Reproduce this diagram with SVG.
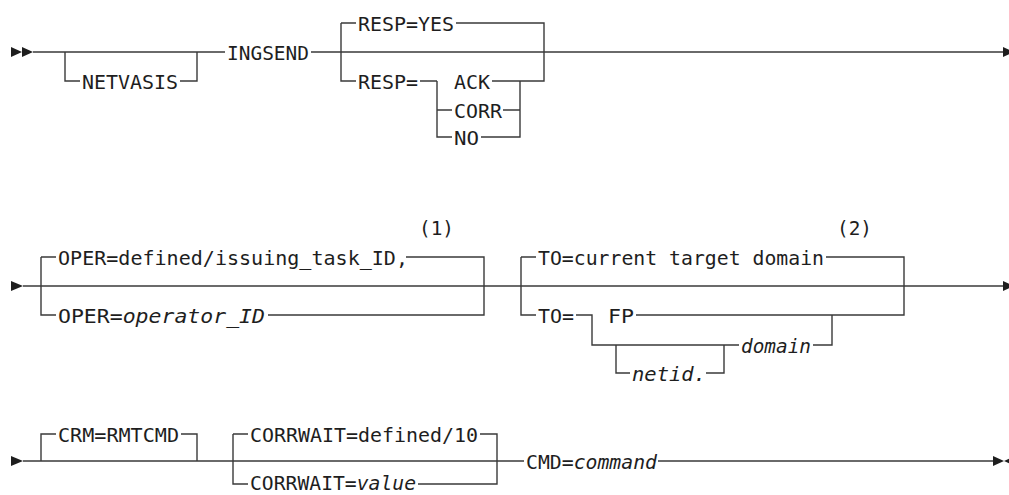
<svg xmlns="http://www.w3.org/2000/svg" width="1009" height="495" viewBox="0 0 1009 495">
<style>
text{font-family:"DejaVu Sans Mono","Liberation Mono",monospace;font-size:20px;fill:#1e1e1e}
.i{font-style:italic}
.ln{fill:none;stroke:#3a3a3a;stroke-width:1.4}
.ar{fill:#1e1e1e}
</style>
<rect width="1009" height="495" fill="#ffffff"/>
<g id="connectors">
<!-- row 1 -->
<path class="ln" d="M33,52 H225 M311,52 H1003"/>
<path class="ln" d="M65,52 V81 H80 M180,81 H197 V52"/>
<path class="ln" d="M341,23 V81 H356 M341,23 H356 M456,23 H544 V81 H492 M420,81 H437"/>
<path class="ln" d="M437,81 V137 H452 M437,110 H452 M520,81 V137 H481 M520,110 H503"/>
<!-- row 2 -->
<path class="ln" d="M23,286 H1003"/>
<path class="ln" d="M41,257 V315 H56 M41,257 H56 M406,257 H484 V315 H268"/>
<path class="ln" d="M521,257 V315 H536 M521,257 H536 M826,257 H904 V315 H636 M576,315 H592 V345 H739"/>
<path class="ln" d="M616,345 V373 H630 M706,373 H724 V345 M813,345 H832 V315"/>
<!-- row 3 -->
<path class="ln" d="M23,461 H524 M658,461 H993"/>
<path class="ln" d="M41,461 V434 H56 M181,434 H197 V461"/>
<path class="ln" d="M233,434 V484 H248 M233,434 H248 M480,434 H497 V484 H418"/>
<!-- arrowheads -->
<polygon class="ar" points="11,47 22,52 11,57"/>
<polygon class="ar" points="22,47 33,52 22,57"/>
<polygon class="ar" points="1003,47 1014,52 1003,57"/>
<polygon class="ar" points="11,281 23,286 11,291"/>
<polygon class="ar" points="1003,281 1014,286 1003,291"/>
<polygon class="ar" points="11,456 23,461 11,466"/>
<polygon class="ar" points="993,456 1004,461 993,466"/>
<polygon class="ar" points="1015,456 1004,461 1015,466"/>
</g>
<g id="netvasis"><text x="82" y="88.5" textLength="96" lengthAdjust="spacingAndGlyphs">NETVASIS</text></g>
<g id="ingsend"><text x="227" y="59.5" textLength="82" lengthAdjust="spacingAndGlyphs">INGSEND</text></g>
<g id="resp-yes"><text x="358" y="30.5" textLength="96" lengthAdjust="spacingAndGlyphs">RESP=YES</text></g>
<g id="resp"><text x="358" y="88.5" textLength="60" lengthAdjust="spacingAndGlyphs">RESP=</text></g>
<g id="ack"><text x="454" y="88.5" textLength="36" lengthAdjust="spacingAndGlyphs">ACK</text></g>
<g id="corr"><text x="454" y="117.5" textLength="48" lengthAdjust="spacingAndGlyphs">CORR</text></g>
<g id="no"><text x="454" y="144.5" textLength="25" lengthAdjust="spacingAndGlyphs">NO</text></g>
<g id="note1"><text x="419" y="235" textLength="35" lengthAdjust="spacingAndGlyphs">(1)</text></g>
<g id="oper-default"><text x="58" y="264.5" textLength="350" lengthAdjust="spacingAndGlyphs">OPER=defined/issuing_task_ID,</text></g>
<g id="oper-id"><text x="58" y="322.5" textLength="207" lengthAdjust="spacingAndGlyphs">OPER=<tspan class="i">operator_ID</tspan></text></g>
<g id="note2"><text x="837" y="235" textLength="35" lengthAdjust="spacingAndGlyphs">(2)</text></g>
<g id="to-default"><text x="538" y="264.5" textLength="286" lengthAdjust="spacingAndGlyphs">TO=current target domain</text></g>
<g id="to"><text x="538" y="322.5" textLength="36" lengthAdjust="spacingAndGlyphs">TO=</text></g>
<g id="fp"><text x="608" y="322.5" textLength="26" lengthAdjust="spacingAndGlyphs">FP</text></g>
<g id="netid"><text class="i" x="632" y="380.5" textLength="74" lengthAdjust="spacingAndGlyphs">netid.</text></g>
<g id="domain"><text class="i" x="741" y="352.5" textLength="70" lengthAdjust="spacingAndGlyphs">domain</text></g>
<g id="crm"><text x="58" y="441.5" textLength="121" lengthAdjust="spacingAndGlyphs">CRM=RMTCMD</text></g>
<g id="corrwait-default"><text x="250" y="441.5" textLength="228" lengthAdjust="spacingAndGlyphs">CORRWAIT=defined/10</text></g>
<g id="corrwait-value"><text x="250" y="490" textLength="166" lengthAdjust="spacingAndGlyphs">CORRWAIT=<tspan class="i">value</tspan></text></g>
<g id="cmd"><text x="526" y="468.5" textLength="131" lengthAdjust="spacingAndGlyphs">CMD=<tspan class="i">command</tspan></text></g>
</svg>
